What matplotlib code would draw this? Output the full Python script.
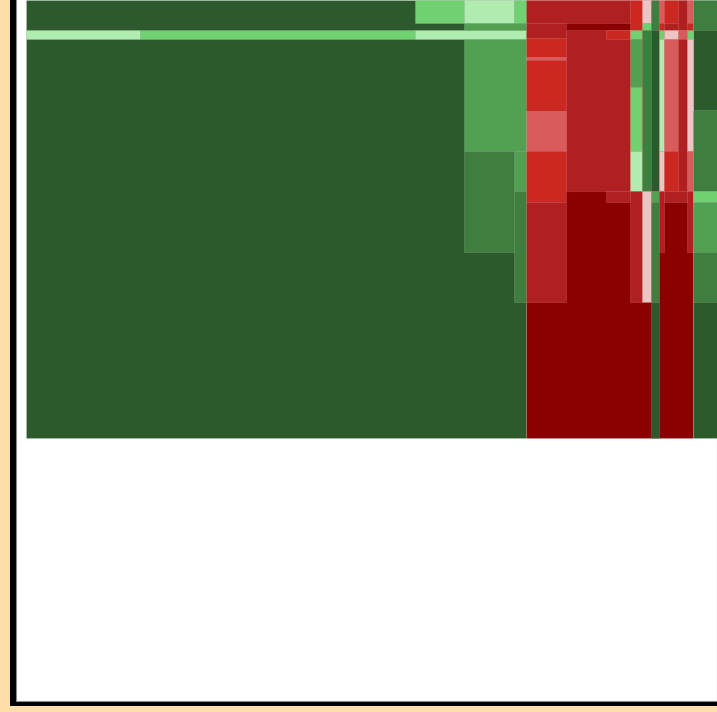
import matplotlib
matplotlib.use("Agg")
import matplotlib.pyplot as plt
from matplotlib.patches import Rectangle

# colour levels (performance buckets)
palette = {
    "DG": "#2d5a2d", "MG": "#407e40", "G": "#52a052", "LG": "#6fd16f", "VLG": "#b0ecb0",
    "PK": "#ecc4c4", "LR": "#d95b5b", "BR": "#cc2822", "FB": "#b02020", "DR": "#8b0000",
}

# treemap tiles (left, right, top, bottom in map units)
tile_left = [26, 526, 693, 26, 140, 415, 415, 464, 514, 464, 464, 514, 464, 514,
             526, 526, 566, 606, 606, 526, 526, 526, 526, 526, 526,
             630, 630, 630, 630, 630, 630,
             642, 642, 642, 642,
             651, 651, 651, 651, 651,
             659, 659, 659, 659, 659, 659,
             664, 664, 664, 664, 664, 664,
             678, 678, 678,
             687, 687, 687, 687, 687, 687,
             693, 693, 693, 693, 693]
tile_right = [526, 693, 720, 140, 415, 464, 526, 514, 526, 526, 526, 526, 514, 526,
              630, 566, 630, 630, 630, 566, 566, 566, 566, 566, 566,
              642, 642, 642, 642, 642, 642,
              651, 651, 651, 651,
              659, 659, 659, 659, 659,
              664, 664, 664, 664, 664, 664,
              678, 678, 678, 678, 678, 687,
              687, 687, 687,
              693, 693, 693, 693, 693, 693,
              720, 720, 720, 720, 720]
tile_top = [0, 0, 0, 30, 30, 0, 30, 0, 0, 23, 39, 151, 151, 191,
            0, 23, 30, 30, 191, 38, 57, 60, 111, 151, 202,
            0, 30, 39, 87, 151, 191,
            0, 23, 30, 191,
            0, 30, 191, 202, 302,
            0, 23, 30, 39, 151, 191,
            0, 23, 30, 39, 151, 191,
            0, 30, 39,
            0, 23, 30, 39, 151, 191,
            0, 110, 191, 202, 252]
tile_bottom = [438, 438, 438, 39, 39, 23, 39, 23, 23, 30, 151, 191, 252, 302,
               23, 38, 191, 39, 202, 57, 60, 111, 151, 202, 302,
               30, 39, 87, 151, 191, 302,
               23, 30, 191, 302,
               30, 191, 202, 302, 438,
               23, 30, 39, 151, 191, 252,
               23, 30, 39, 151, 191, 202,
               30, 39, 191,
               23, 30, 39, 151, 191, 252,
               30, 191, 202, 252, 302]
tile_color = ["DG", "DR", "DG", "VLG", "LG", "LG", "VLG", "VLG", "LG", "G", "G", "G", "MG", "MG",
              "FB", "FB", "FB", "BR", "FB", "BR", "LR", "BR", "LR", "BR", "FB",
              "BR", "LG", "G", "LG", "VLG", "FB",
              "PK", "LG", "MG", "PK",
              "MG", "DG", "G", "MG", "DG",
              "LR", "BR", "LG", "VLG", "PK", "FB",
              "BR", "FB", "PK", "LR", "BR", "FB",
              "FB", "LR", "FB",
              "LR", "BR", "LG", "PK", "LR", "FB",
              "MG", "MG", "LG", "G", "MG"]

W, H = 717, 712
fig = plt.figure(figsize=(W / 100, H / 100), dpi=100, facecolor="#ffdeaa")
ax = fig.add_axes([0, 0, 1, 1])
ax.set_xlim(0, W)
ax.set_ylim(H, 0)
ax.axis("off")

# panel with drop shadow
ax.add_patch(Rectangle((10, -20), W + 20, 726, facecolor="black", edgecolor="none", zorder=0))
ax.add_patch(Rectangle((15.5, -20), 701, 721, facecolor="white", edgecolor="#8a8a8a",
                       linewidth=0.8, zorder=1))

widths = [r - l for l, r in zip(tile_left, tile_right)]
heights = [b - t for t, b in zip(tile_top, tile_bottom)]
cols = [palette[c] for c in tile_color]
ax.bar(tile_left, heights, width=widths, bottom=tile_top, align="edge", color=cols,
       edgecolor=(1, 1, 1, 0.15), linewidth=0.6, zorder=2)

fig.savefig("out.png", dpi=100, facecolor=fig.get_facecolor())
